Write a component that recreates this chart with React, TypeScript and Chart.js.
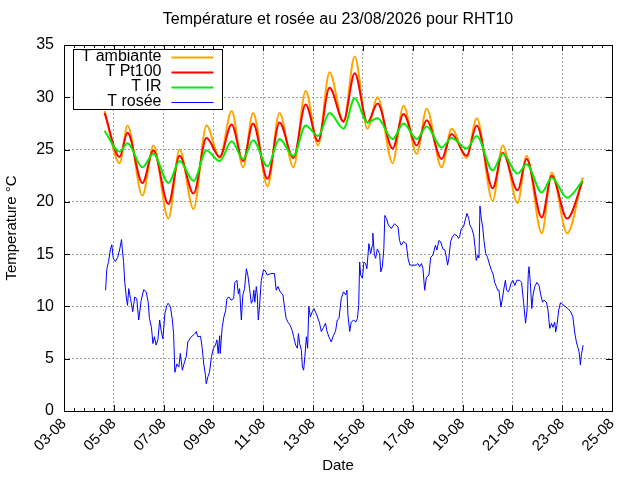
import React, { useEffect, useRef } from "react";
import { Chart, registerables } from "chart.js";

Chart.register(...registerables);

const chartTitle = "Température et rosée au 23/08/2026 pour RHT10";
const seriesLabels = ["T ambiante", "T Pt100", "T IR", "T rosée"];
const seriesColors = ["#ffa500", "#ff0000", "#00ee00", "#0000ff"];

// x values are days of August (fractional), 03-08 .. 25-08
const xMin = 3;
const xMax = 25;
const xStep = 2;
const xMinorStep = 0.4;

// daily extremes
const tempTimes = [
  4.63, 5.23, 5.55, 6.15, 6.59, 7.19, 7.64, 8.2, 8.72, 9.25,
  9.73, 10.19, 10.59, 11.17, 11.65, 12.21, 12.7, 13.2, 13.66, 14.22,
  14.67, 15.18, 15.59, 16.19, 16.63, 17.16, 17.56, 18.16, 18.56, 19.16,
  19.57, 20.21, 20.61, 21.21, 21.57, 22.18, 22.58, 23.2, 23.82,
];
const tAmbiante = [
  28.7, 23.7, 27.3, 20.6, 25.4, 18.4, 25.0, 19.3, 27.3, 24.2,
  28.7, 23.3, 28.5, 21.5, 28.5, 23.3, 30.6, 25.4, 32.4, 27.6,
  33.9, 27.0, 30.0, 23.7, 29.2, 24.6, 28.9, 23.3, 27.0, 24.2,
  28.0, 20.1, 25.4, 19.9, 24.4, 17.0, 22.8, 17.0, 22.3,
];
const tPt100 = [
  28.5, 24.3, 26.6, 21.8, 24.9, 19.8, 24.4, 20.8, 26.1, 24.3,
  27.4, 23.9, 27.5, 22.2, 27.6, 24.2, 29.3, 25.8, 30.9, 27.7,
  32.3, 27.6, 29.4, 25.1, 28.4, 25.4, 27.8, 24.1, 26.5, 24.4,
  27.3, 21.3, 24.7, 21.1, 24.1, 18.5, 22.5, 18.4, 22.0,
];
const tIR = [
  26.8, 24.8, 25.6, 23.3, 24.6, 21.8, 23.9, 22.0, 24.9, 23.9,
  25.8, 24.1, 25.9, 23.4, 26.0, 24.4, 27.3, 26.3, 28.5, 27.0,
  29.9, 27.6, 28.0, 26.0, 27.5, 26.0, 27.2, 25.2, 26.1, 25.1,
  26.3, 23.0, 24.6, 22.7, 23.6, 20.9, 22.3, 20.4, 22.0,
];

const dewTimes = [
  4.67, 4.72, 4.79, 4.86, 4.92, 4.98, 5.06, 5.16, 5.23, 5.31,
  5.34, 5.39, 5.44, 5.5, 5.55, 5.6, 5.67, 5.76, 5.84, 5.92,
  6.0, 6.1, 6.2, 6.3, 6.38, 6.43, 6.51, 6.57, 6.63, 6.7,
  6.77, 6.84, 6.9, 6.97, 7.05, 7.13, 7.18, 7.27, 7.35, 7.4,
  7.45, 7.53, 7.61, 7.67, 7.75, 7.84, 7.91, 7.97, 8.11, 8.24,
  8.31, 8.37, 8.48, 8.55, 8.61, 8.68, 8.71, 8.78, 8.84, 8.92,
  9.0, 9.08, 9.14, 9.19, 9.25, 9.27, 9.35, 9.42, 9.49, 9.54,
  9.62, 9.71, 9.81, 9.86, 9.94, 10.0, 10.05, 10.12, 10.18, 10.25,
  10.32, 10.38, 10.45, 10.52, 10.58, 10.62, 10.66, 10.72, 10.76, 10.8,
  10.85, 10.92, 11.01, 11.08, 11.16, 11.25, 11.35, 11.45, 11.52, 11.59,
  11.68, 11.79, 11.86, 11.92, 11.99, 12.08, 12.16, 12.22, 12.3, 12.37,
  12.41, 12.46, 12.53, 12.57, 12.62, 12.67, 12.73, 12.78, 12.83, 12.89,
  12.97, 13.03, 13.13, 13.26, 13.33, 13.42, 13.5, 13.55, 13.63, 13.73,
  13.82, 13.9, 13.97, 14.04, 14.13, 14.22, 14.31, 14.36, 14.4, 14.47,
  14.53, 14.63, 14.71, 14.78, 14.83, 14.87, 14.91, 14.98, 15.04, 15.11,
  15.16, 15.24, 15.31, 15.38, 15.4, 15.46, 15.51, 15.58, 15.67, 15.72,
  15.78, 15.84, 15.88, 15.95, 16.02, 16.14, 16.27, 16.41, 16.47, 16.54,
  16.63, 16.74, 16.81, 16.88, 17.01, 17.14, 17.21, 17.28, 17.35, 17.41,
  17.48, 17.55, 17.65, 17.72, 17.81, 17.91, 17.97, 18.05, 18.12, 18.21,
  18.29, 18.35, 18.4, 18.45, 18.52, 18.59, 18.68, 18.78, 18.84, 18.88,
  18.95, 19.04, 19.12, 19.18, 19.25, 19.29, 19.37, 19.45, 19.5, 19.55,
  19.62, 19.66, 19.7, 19.76, 19.81, 19.86, 19.93, 20.0, 20.09, 20.16,
  20.22, 20.29, 20.36, 20.41, 20.46, 20.54, 20.6, 20.66, 20.72, 20.77,
  20.84, 20.89, 20.96, 21.02, 21.1, 21.18, 21.29, 21.37, 21.45, 21.53,
  21.59, 21.64, 21.67, 21.72, 21.78, 21.83, 21.9, 21.99, 22.07, 22.14,
  22.21, 22.27, 22.37, 22.43, 22.5, 22.57, 22.63, 22.7, 22.74, 22.79,
  22.86, 22.93, 23.01, 23.14, 23.23, 23.34, 23.43, 23.5, 23.57, 23.64,
  23.68, 23.73, 23.77, 23.84,
];
const tRosee = [
  11.55, 13.6, 14.3, 15.4, 15.9, 14.6, 14.3, 14.7, 15.4, 16.4,
  15.5, 14.3, 12.3, 10.9, 10.1, 11.7, 10.75, 9.5, 10.9, 10.75,
  8.7, 10.6, 11.6, 11.4, 10.4, 8.85, 8.0, 6.45, 7.1, 6.3,
  6.8, 8.7, 7.7, 6.9, 9.3, 10.1, 10.3, 10.0, 8.7, 7.4,
  3.7, 4.5, 4.2, 5.5, 3.9, 4.7, 5.2, 6.6, 7.1, 7.35,
  7.6, 7.1, 7.15, 6.0, 4.5, 3.4, 2.6, 3.3, 3.7, 5.2,
  6.0, 6.3, 6.8, 5.5, 7.2, 5.5, 8.0, 9.0, 9.6, 10.75,
  10.9, 10.6, 10.75, 12.3, 12.5, 11.2, 11.7, 8.7, 11.1, 11.7,
  13.6, 13.0, 11.7, 10.3, 10.6, 11.55, 10.4, 11.9, 11.1, 8.7,
  10.0, 12.5, 13.5, 13.4, 13.0, 13.1, 13.15, 13.15, 11.55, 11.9,
  11.4, 11.1, 9.8, 8.85, 8.5, 8.2, 7.7, 7.1, 6.3, 6.0,
  7.4, 6.45, 5.8, 4.2, 3.9, 5.2, 7.1, 6.0, 10.0, 9.0,
  9.5, 9.8, 9.3, 8.4, 7.6, 8.0, 8.4, 7.7, 7.1, 6.6,
  7.25, 7.6, 8.7, 8.85, 10.75, 11.4, 11.1, 11.55, 9.15, 7.6,
  8.5, 8.7, 8.5, 8.85, 10.1, 14.25, 13.0, 12.7, 14.25, 14.1,
  13.6, 16.0, 15.05, 15.85, 17.0, 14.9, 14.6, 15.5, 15.05, 13.3,
  13.8, 15.5, 18.7, 18.4, 17.8, 17.45, 17.9, 17.6, 16.3, 15.85,
  16.2, 16.0, 14.6, 13.95, 13.95, 13.95, 14.1, 13.8, 14.1, 13.6,
  11.55, 12.8, 13.0, 14.7, 14.9, 15.85, 15.4, 16.3, 16.2, 15.5,
  15.4, 14.7, 13.95, 14.6, 16.2, 16.65, 16.9, 16.75, 16.5, 16.65,
  17.45, 17.6, 18.4, 18.9, 18.4, 17.8, 17.45, 16.8, 15.7, 14.4,
  14.9, 14.65, 19.6, 18.25, 17.6, 16.3, 15.05, 14.7, 13.95, 13.45,
  13.15, 12.3, 11.9, 11.55, 11.55, 9.95, 10.75, 11.7, 12.5, 11.55,
  11.4, 11.7, 12.3, 12.5, 12.0, 12.5, 12.5, 12.3, 10.4, 8.4,
  9.65, 13.15, 13.8, 12.3, 9.8, 11.1, 11.9, 12.3, 12.0, 11.1,
  10.4, 10.6, 10.4, 9.65, 7.9, 8.4, 8.0, 8.5, 7.55, 8.2,
  9.65, 10.35, 10.2, 9.95, 9.8, 9.5, 9.0, 7.55, 6.6, 6.0,
  5.65, 4.4, 5.35, 6.3,
];

const FONT = "'Liberation Sans', Arial, sans-serif";

const toPoints = (xs: number[], ys: number[]) => xs.map((x, i) => ({ x, y: ys[i] }));

// gnuplot-like frame, inward tics and a key with the text left of the sample
const gnuplotFrame = {
  id: "gnuplotFrame",
  afterDatasetsDraw(chart: any) {
    const { ctx, chartArea: a, scales } = chart;
    ctx.save();
    ctx.strokeStyle = "#000";
    ctx.lineWidth = 1;
    ctx.strokeRect(a.left + 0.5, a.top + 0.5, a.right - a.left, a.bottom - a.top);

    ctx.beginPath();
    const nMinor = Math.round((xMax - xMin) / xMinorStep);
    const per = Math.round(xStep / xMinorStep);
    for (let i = 0; i <= nMinor; i++) {
      const px = Math.round(scales.x.getPixelForValue(xMin + i * xMinorStep)) + 0.5;
      const len = i % per === 0 ? 6 : 3;
      ctx.moveTo(px, a.bottom);
      ctx.lineTo(px, a.bottom - len);
      ctx.moveTo(px, a.top);
      ctx.lineTo(px, a.top + len);
    }
    scales.y.ticks.forEach((t: any) => {
      const py = Math.round(scales.y.getPixelForValue(t.value)) + 0.5;
      ctx.moveTo(a.left, py);
      ctx.lineTo(a.left + 6, py);
      ctx.moveTo(a.right, py);
      ctx.lineTo(a.right - 6, py);
    });
    ctx.stroke();

    // key
    const bx = a.left + 9.5;
    const by = a.top + 4.5;
    ctx.fillStyle = "#fff";
    ctx.fillRect(bx, by, 149, 60);
    ctx.strokeRect(bx, by, 149, 60);
    ctx.font = `16px ${FONT}`;
    ctx.textAlign = "right";
    ctx.textBaseline = "middle";
    chart.data.datasets.forEach((ds: any, i: number) => {
      const ry = by + 7 + i * 15;
      ctx.fillStyle = "#000";
      ctx.fillText(ds.label, bx + 88, ry);
      ctx.beginPath();
      ctx.strokeStyle = ds.borderColor;
      ctx.lineWidth = ds.borderWidth;
      ctx.moveTo(bx + 98, ry + 1);
      ctx.lineTo(bx + 140, ry + 1);
      ctx.stroke();
    });
    ctx.restore();
  },
};

const TemperatureChart = () => {
  const canvasRef = useRef<HTMLCanvasElement | null>(null);

  useEffect(() => {
    const ctx = canvasRef.current?.getContext("2d");
    if (!ctx) return;

    const temps = [tAmbiante, tPt100, tIR];
    const datasets: any[] = temps.map((vals, i) => ({
      label: seriesLabels[i],
      data: toPoints(tempTimes, vals),
      borderColor: seriesColors[i],
      borderWidth: 2,
      pointRadius: 0,
      cubicInterpolationMode: "monotone",
      order: 3 - i,
    }));
    datasets.push({
      label: seriesLabels[3],
      data: toPoints(dewTimes, tRosee),
      borderColor: seriesColors[3],
      borderWidth: 1,
      pointRadius: 0,
      tension: 0,
      order: 0,
    });

    const gridStyle = { color: "#a0a0a0", lineWidth: 1, drawTicks: false };
    const dashedBorder = { display: false, dash: [2, 2] };

    const chart = new Chart(ctx, {
      type: "line",
      data: { datasets },
      plugins: [gnuplotFrame],
      options: {
        animation: false,
        responsive: false,
        events: [],
        layout: { padding: { left: 0, right: 28, top: 0, bottom: 0 } },
        plugins: {
          legend: { display: false },
          tooltip: { enabled: false },
          title: {
            display: true,
            text: chartTitle,
            fullSize: false,
            color: "#000",
            font: { family: FONT, size: 16, weight: "normal" },
            padding: { top: 10, bottom: 15.8 },
          },
        },
        scales: {
          x: {
            type: "linear",
            min: xMin,
            max: xMax,
            border: dashedBorder,
            grid: gridStyle,
            ticks: {
              stepSize: xStep,
              autoSkip: false,
              minRotation: 45,
              maxRotation: 45,
              padding: 4,
              color: "#000",
              font: { family: FONT, size: 15 },
              callback: (v: any) => `${String(Math.round(v)).padStart(2, "0")}-08`,
            },
            title: {
              display: true,
              text: "Date",
              color: "#000",
              font: { family: FONT, size: 15 },
              padding: { top: 0, bottom: 5 },
            },
            afterFit: (scale: any) => {
              scale.height = 69;
            },
          },
          y: {
            min: 0,
            max: 35,
            border: dashedBorder,
            grid: gridStyle,
            ticks: {
              stepSize: 5,
              padding: 10,
              color: "#000",
              font: { family: FONT, size: 16 },
            },
            title: {
              display: true,
              text: "Temperature °C",
              color: "#000",
              font: { family: FONT, size: 15 },
              padding: { top: 3, bottom: 0 },
            },
            afterFit: (scale: any) => {
              scale.width = 64;
            },
          },
        },
      } as any,
    });

    return () => {
      chart.destroy();
    };
  }, []);

  return (
    <div style={{ position: "absolute", left: 0, top: 0, width: 640, height: 480, background: "#fff" }}>
      <canvas ref={canvasRef} width={640} height={480} />
    </div>
  );
};

export default function App() {
  return <TemperatureChart />;
}
